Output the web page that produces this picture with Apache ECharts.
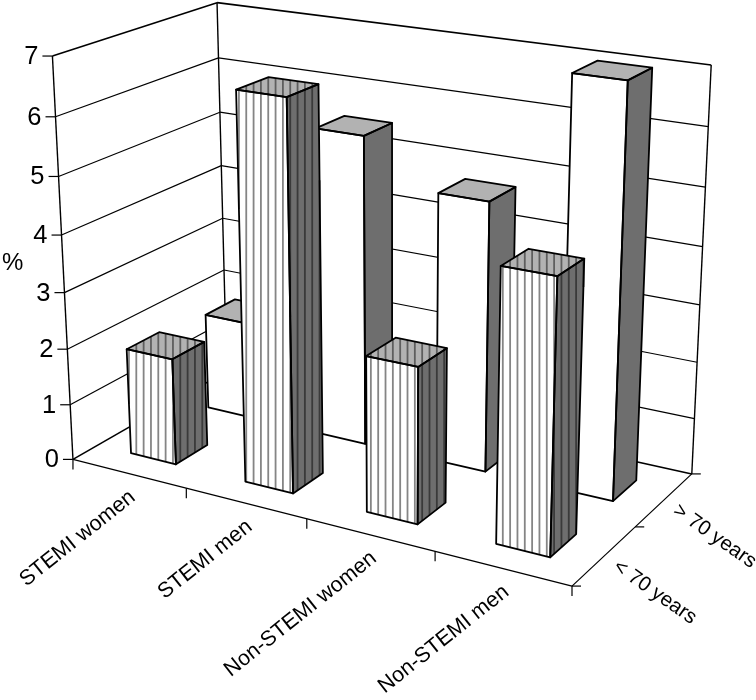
<!DOCTYPE html>
<html>
<head>
<meta charset="utf-8">
<style>html,body{margin:0;padding:0;background:#fff}#c{width:756px;height:700px}</style>
<script src="https://cdn.jsdelivr.net/npm/echarts@6/dist/echarts.min.js"></script>
</head>
<body>
<div id="c"></div>
<script>
const categories = ['STEMI women', 'STEMI men', 'Non-STEMI women', 'Non-STEMI men'];
const depthLabels = ['< 70 years', '> 70 years'];
const valueTicks = [0, 1, 2, 3, 4, 5, 6, 7];
const under70 = [1.9, 6.68, 2.68, 4.57];
const over70 = [1.77, 5.5, 4.73, 7.02];

// Camera of the 3D box: where its corners land on the page [x, depth, z] -> [px, py]
const CAMERA = [
  [[0, 0, 0], [72.7, 459.5]], [[0, 0, 1], [52.7, 56]],
  [[0, 1, 0], [227, 371]], [[0, 1, 1], [216.7, 2.7]],
  [[1, 1, 0], [691.7, 474]], [[1, 1, 1], [711.3, 65]],
  [[1, 0, 0], [572, 586]]
];
function solve(A, b) {
  const n = b.length, M = A.map((r, i) => r.concat(b[i]));
  for (let i = 0; i < n; i++) {
    let p = i;
    for (let r = i + 1; r < n; r++) if (Math.abs(M[r][i]) > Math.abs(M[p][i])) p = r;
    [M[i], M[p]] = [M[p], M[i]];
    for (let r = 0; r < n; r++) {
      if (r === i) continue;
      const f = M[r][i] / M[i][i];
      for (let c = i; c <= n; c++) M[r][c] -= f * M[i][c];
    }
  }
  return M.map((r, i) => r[n] / r[i]);
}
const H = (function () {
  const rows = [], rhs = [];
  CAMERA.forEach(([w, p]) => {
    const [x, d, z] = w;
    rows.push([1, x, d, z, 0, 0, 0, 0, -p[0] * x, -p[0] * d, -p[0] * z]); rhs.push(p[0]);
    rows.push([0, 0, 0, 0, 1, x, d, z, -p[1] * x, -p[1] * d, -p[1] * z]); rhs.push(p[1]);
  });
  const n = 11, A = [], b = [];
  for (let i = 0; i < n; i++) {
    A.push([]);
    for (let j = 0; j < n; j++) A[i].push(rows.reduce((s, r) => s + r[i] * r[j], 0));
    b.push(rows.reduce((s, r, k) => s + r[i] * rhs[k], 0));
  }
  return solve(A, b);
})();
function project(x, d, z) {
  const w = 1 + H[8] * x + H[9] * d + H[10] * z;
  return [(H[0] + H[1] * x + H[2] * d + H[3] * z) / w, (H[4] + H[5] * x + H[6] * d + H[7] * z) / w];
}
// Normalise library coordinates to the unit box
function norm(params, api, cat, val) {
  const cs = params.coordSys, p = api.coord([cat, val]);
  return [(p[0] - cs.x) / cs.width, (cs.y + cs.height - p[1]) / cs.height];
}
const FONT = '"Liberation Sans", Arial, sans-serif';
const lineEl = (a, b, w, c) => ({ type: 'line', shape: { x1: a[0], y1: a[1], x2: b[0], y2: b[1] }, style: { stroke: c || '#000', lineWidth: w || 1.2 } });
const textEl = (t, p, size, align, rot) => ({ type: 'text', x: p[0], y: p[1], rotation: rot || 0, style: { text: t, x: 0, y: 0, fill: '#000', font: size + 'px ' + FONT, align: align, verticalAlign: 'middle' } });

function renderValue(params, api) {
  const v = api.value(1), z = norm(params, api, 0, v)[1];
  const a = project(0, 0, z), b = project(0, 1, z), c = project(1, 1, z);
  const w = (v === 0 || v === 7) ? 1.6 : 1.2;
  return { type: 'group', children: [
    lineEl(a, b, w), lineEl(b, c, w),
    lineEl([a[0] - 10, a[1]], a, 1.2),
    textEl(String(v), [a[0] - 14, a[1] + 1], 25.5, 'right')
  ] };
}
function renderBox() {
  const A = project(0, 0, 0), B = project(0, 0, 1), C = project(0, 1, 0), D = project(0, 1, 1),
    E = project(1, 1, 0), F = project(1, 1, 1), G = project(1, 0, 0), mid = project(1, 0.5, 0);
  return { type: 'group', children: [
    lineEl(A, B, 1.4), lineEl(C, D, 1.4), lineEl(E, F, 1.4),
    lineEl(A, G, 1.2), lineEl(G, E, 1.2),
    lineEl(A, [A[0], A[1] + 10], 1.2),
    lineEl(G, [G[0], G[1] + 10], 1.2), lineEl(G, [G[0] + 9, G[1]], 1.2),
    lineEl(mid, [mid[0] + 9, mid[1]], 1.2), lineEl(E, [E[0] + 9, E[1]], 1.2),
    textEl('%', [2, 263], 24, 'left')
  ] };
}
function renderCategory(params, api) {
  const i = api.value(0), nHalf = norm(params, api, i, 0)[0], band = norm(params, api, 1, 0)[0] - norm(params, api, 0, 0)[0];
  const c = project(nHalf, 0, 0), t = project(nHalf + band / 2, 0, 0), kids = [];
  if (i < categories.length - 1) kids.push(lineEl(t, [t[0], t[1] + 10], 1.2));
  kids.push(textEl(categories[i], [c[0] + 4, c[1] + 21], 21.5, 'right', 38.5 * Math.PI / 180));
  return { type: 'group', children: kids };
}
function renderDepth(params, api) {
  const r = api.value(0), d = (r + 0.5) / depthLabels.length, p = project(1, d, 0);
  return textEl(depthLabels[r], [p[0] + 11, p[1] + 9], 20.5, 'left', -35 * Math.PI / 180);
}
function stripes(points, color, width) {
  const out = [], xs = points.map(p => p[0]), x0 = Math.min(...xs), x1 = Math.max(...xs);
  for (let k = Math.ceil((x0 - 136.3) / 7.33); 136.3 + k * 7.33 < x1; k++) {
    const x = 136.3 + k * 7.33, ys = [];
    points.forEach((p, i) => {
      const q = points[(i + 1) % points.length];
      if ((p[0] - x) * (q[0] - x) <= 0 && p[0] !== q[0]) ys.push(p[1] + (q[1] - p[1]) * (x - p[0]) / (q[0] - p[0]));
    });
    if (ys.length >= 2) out.push(lineEl([x, Math.min(...ys)], [x, Math.max(...ys)], width, color));
  }
  return out;
}
const face = (pts, fill, stroke) => ({ type: 'polygon', shape: { points: pts }, style: { fill: fill, stroke: stroke, lineWidth: stroke === 'none' ? 0 : 1.8, lineJoin: 'round' } });
function barRenderer(row, striped) {
  return function (params, api) {
    const i = api.value(0), c = norm(params, api, i, api.value(1)), band = norm(params, api, 1, 0)[0] - norm(params, api, 0, 0)[0];
    const x0 = c[0] - band * 0.2, x1 = c[0] + band * 0.2, z = c[1];
    const dc = (row + 0.5) / 2, d0 = dc - 0.1, d1 = dc + 0.1;
    const front = [project(x0, d0, 0), project(x1, d0, 0), project(x1, d0, z), project(x0, d0, z)];
    const side = [project(x1, d0, 0), project(x1, d1, 0), project(x1, d1, z), project(x1, d0, z)];
    const top = [project(x0, d0, z), project(x1, d0, z), project(x1, d1, z), project(x0, d1, z)];
    const kids = [face(front, '#fff', 'none'), face(side, '#6e6e6e', 'none'), face(top, '#b2b2b2', 'none')];
    if (striped) kids.push(...stripes(front, '#858585', 1.8), ...stripes(side, '#3a3a3a', 1.8), ...stripes(top, '#5e5e5e', 1.8));
    kids.push(face(front, 'none', '#000'), face(side, 'none', '#000'), face(top, 'none', '#000'));
    return { type: 'group', children: kids };
  };
}
const base = { type: 'custom', animation: false, silent: true, clip: false, xAxisIndex: 0, yAxisIndex: 0 };
const chart = echarts.init(document.getElementById('c'), null, { renderer: 'canvas' });
chart.setOption({
  backgroundColor: '#fff',
  animation: false,
  tooltip: { show: false },
  grid: { left: 100, top: 100, width: 400, height: 400 },
  xAxis: { type: 'category', data: categories, show: false },
  yAxis: { type: 'value', min: 0, max: 7, interval: 1, show: false },
  series: [
    Object.assign({}, base, { name: 'value grid', renderItem: renderValue, data: valueTicks.map(v => [0, v]) }),
    Object.assign({}, base, { name: 'box', renderItem: renderBox, data: [[0, 0]] }),
    Object.assign({}, base, { name: 'categories', renderItem: renderCategory, data: categories.map((c, i) => [i, 0]) }),
    Object.assign({}, base, { name: 'depth', renderItem: renderDepth, data: depthLabels.map((c, i) => [i, 0]) }),
    Object.assign({}, base, { name: depthLabels[1], renderItem: barRenderer(1, false), data: over70.map((v, i) => [i, v]) }),
    Object.assign({}, base, { name: depthLabels[0], renderItem: barRenderer(0, true), data: under70.map((v, i) => [i, v]) })
  ]
});
</script>
</body>
</html>
